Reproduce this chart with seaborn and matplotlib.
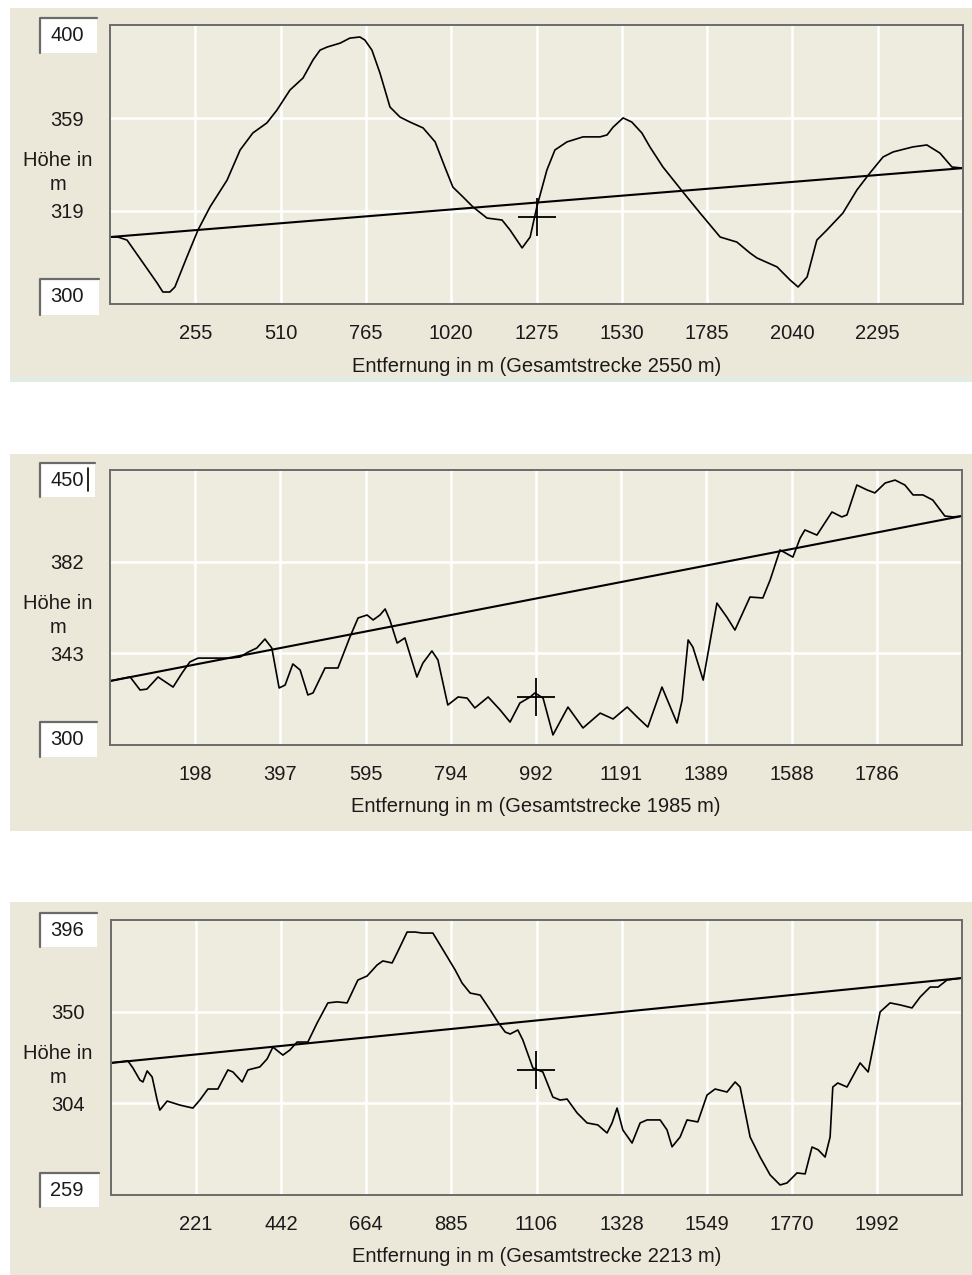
import matplotlib
matplotlib.use("Agg")
import matplotlib.pyplot as plt
from matplotlib.patches import Rectangle
from matplotlib.lines import Line2D
import pandas as pd
import seaborn as sns

# --- profile 1 (Gesamtstrecke 2550 m) ---
dist_1 = [0, 24, 51, 99, 141, 158, 179, 194, 230, 263, 299, 350, 389, 427, 469, 499,
          538, 577, 607, 628, 649, 688, 717, 747, 762, 783, 807, 837, 867, 897, 936,
          972, 1001, 1025, 1055, 1085, 1127, 1172, 1196, 1232, 1256, 1276, 1306, 1330,
          1366, 1414, 1465, 1486, 1504, 1534, 1560, 1590, 1614, 1653, 1713, 1764, 1824,
          1874, 1913, 1934, 1994, 2033, 2057, 2084, 2113, 2143, 2191, 2233, 2272, 2311,
          2341, 2400, 2442, 2481, 2517, 2550]
height_1 = [324.0, 324.0, 322.9, 314.7, 307.5, 304.3, 304.3, 306.1, 316.9, 326.5, 334.8,
            344.4, 355.2, 361.3, 364.9, 369.5, 376.7, 381.0, 387.5, 391.0, 392.1, 393.5,
            395.3, 395.7, 394.6, 391.0, 382.8, 370.6, 367.0, 365.2, 363.1, 358.1, 349.1,
            341.9, 338.4, 334.8, 330.8, 330.1, 326.5, 320.1, 324.0, 334.8, 348.0, 355.2,
            358.1, 359.9, 359.9, 360.6, 363.4, 366.7, 365.2, 361.3, 356.3, 349.1, 340.1,
            332.6, 324.0, 322.2, 318.3, 316.5, 313.3, 308.6, 306.1, 309.7, 322.9, 326.5,
            332.6, 340.9, 347.0, 352.7, 354.5, 356.3, 357.0, 354.1, 349.1, 348.7]
trend_1 = [324.0, 348.7]
cross_1 = (1275, 331.2)
yrange_1 = (300, 400)
ylabels_1 = ["319", "359"]
xlabels_1 = ["255", "510", "765", "1020", "1275", "1530", "1785", "2040", "2295"]
total_1 = 2550

# --- profile 2 (Gesamtstrecke 1985 m) ---
dist_2 = [0, 23, 47, 70, 86, 112, 133, 147, 168, 186, 205, 240, 280, 303, 322, 342, 361,
          377, 394, 408, 426, 443, 461, 473, 501, 531, 559, 578, 599, 613, 629, 641, 652,
          669, 687, 715, 729, 750, 764, 787, 811, 832, 850, 881, 909, 932, 955, 979, 990,
          1009, 1032, 1067, 1102, 1142, 1172, 1205, 1228, 1253, 1286, 1321, 1333, 1347,
          1358, 1382, 1414, 1437, 1456, 1491, 1521, 1538, 1561, 1591, 1608, 1619, 1647,
          1682, 1705, 1717, 1740, 1764, 1782, 1806, 1829, 1852, 1871, 1894, 1917, 1945,
          1964, 1985]
height_2 = [334.9, 336.0, 337.1, 330.0, 330.5, 337.1, 333.8, 331.6, 339.3, 345.3, 347.4,
            347.4, 347.4, 348.0, 350.7, 352.9, 357.8, 352.9, 331.1, 332.7, 344.2, 340.9,
            327.3, 328.4, 342.0, 342.0, 358.9, 369.3, 370.9, 368.2, 370.9, 374.2, 368.2,
            355.6, 358.4, 337.1, 344.7, 351.3, 346.4, 321.8, 326.2, 325.6, 320.2, 326.2,
            319.1, 312.5, 322.9, 326.2, 328.4, 325.6, 305.5, 320.7, 309.3, 317.4, 314.2,
            320.7, 315.3, 309.8, 331.6, 312.0, 324.5, 357.3, 353.4, 335.4, 377.4, 369.8,
            362.7, 380.7, 380.2, 390.0, 406.4, 402.5, 412.9, 417.3, 414.5, 427.1, 424.4,
            425.5, 441.8, 439.1, 437.5, 442.9, 444.5, 441.8, 436.4, 436.4, 433.6, 424.9,
            424.4, 424.9]
trend_2 = [334.9, 424.9]
cross_2 = (992, 326.2)
yrange_2 = (300, 450)
ylabels_2 = ["343", "382"]
xlabels_2 = ["198", "397", "595", "794", "992", "1191", "1389", "1588", "1786"]
total_2 = 1985

# --- profile 3 (Gesamtstrecke 2213 m) ---
dist_3 = [0, 44, 57, 75, 83, 94, 107, 120, 127, 146, 179, 213, 231, 252, 278, 304, 317,
          341, 356, 387, 406, 421, 447, 465, 484, 512, 536, 564, 588, 614, 642, 666, 692,
          707, 731, 744, 770, 791, 809, 837, 856, 895, 913, 934, 960, 986, 1006, 1025,
          1038, 1058, 1071, 1097, 1123, 1149, 1168, 1186, 1212, 1238, 1266, 1290, 1303,
          1316, 1331, 1355, 1376, 1394, 1428, 1446, 1459, 1480, 1498, 1526, 1550, 1571,
          1602, 1623, 1636, 1662, 1688, 1714, 1740, 1758, 1784, 1805, 1823, 1839, 1857,
          1870, 1877, 1890, 1914, 1948, 1969, 1982, 2000, 2026, 2052, 2083, 2104, 2130,
          2151, 2174, 2213]
height_3 = [324.8, 325.8, 322.3, 316.3, 315.3, 320.8, 317.8, 306.3, 301.3, 305.8, 303.8,
            302.3, 306.3, 311.8, 311.8, 321.3, 320.3, 315.3, 321.3, 322.8, 326.8, 332.7,
            328.7, 331.2, 335.2, 335.2, 344.7, 354.7, 355.2, 354.7, 366.1, 368.1, 373.6,
            375.6, 374.6, 379.6, 390.0, 390.0, 389.5, 389.5, 383.5, 371.1, 364.6, 359.6,
            358.6, 351.2, 345.2, 340.2, 339.2, 341.2, 336.2, 322.3, 320.3, 307.8, 306.3,
            306.8, 299.9, 294.9, 293.9, 289.9, 294.9, 302.3, 291.4, 284.9, 294.9, 296.4,
            296.4, 291.4, 283.0, 287.9, 296.4, 295.4, 308.8, 311.8, 310.3, 315.3, 312.8,
            287.9, 277.9, 269.0, 264.0, 265.0, 270.0, 269.5, 282.9, 281.5, 277.9, 287.9,
            312.8, 314.8, 312.8, 324.8, 320.3, 332.7, 350.2, 354.7, 353.7, 352.2, 357.6,
            362.6, 362.6, 366.1, 367.1]
trend_3 = [324.8, 367.1]
cross_3 = (1106, 321.3)
yrange_3 = (259, 396)
ylabels_3 = ["304", "350"]
xlabels_3 = ["221", "442", "664", "885", "1106", "1328", "1549", "1770", "1992"]
total_3 = 2213

profiles = [
    (dist_1, height_1, trend_1, cross_1, yrange_1, ylabels_1, xlabels_1, total_1),
    (dist_2, height_2, trend_2, cross_2, yrange_2, ylabels_2, xlabels_2, total_2),
    (dist_3, height_3, trend_3, cross_3, yrange_3, ylabels_3, xlabels_3, total_3),
]

sns.set_theme(style="white")
plt.rcParams['font.family'] = ['Liberation Sans', 'DejaVu Sans']

W, H = 972, 1275
BEIGE = "#ECE8D9"
INNER = "#EEEBDF"
TXT = "#1a1a1a"
fig = plt.figure(figsize=(W / 100, H / 100), dpi=100)
fig.patch.set_facecolor("white")


def frac(x, y):
    # pixel coords (origin top-left) -> figure fraction
    return x / W, 1 - y / H


def box(x0, y0, x1, y1):
    # sunken white text box like a windows edit control
    fx, fy = frac(x0, y1)
    fig.patches.append(Rectangle((fx, fy), (x1 - x0) / W, (y1 - y0) / H,
                                 transform=fig.transFigure, facecolor="white",
                                 edgecolor="none", zorder=1))
    fig.lines.append(Line2D([x0 / W, x0 / W, x1 / W], [1 - y1 / H, 1 - y0 / H, 1 - y0 / H],
                            transform=fig.transFigure, color="#6a6a6a", lw=1.6, zorder=2))


# panel geometry in pixels: background band, axes rectangle, value boxes
panels = [
    dict(bg=(10, 8, 972, 376), strip=(376, 382), ax=(110, 25, 963, 304),
         top=(40, 18, 97, 53), bot=(40, 279, 99, 315)),
    dict(bg=(10, 454, 972, 831), strip=None, ax=(110, 470, 962, 745),
         top=(40, 463, 95, 497), bot=(40, 722, 97, 757)),
    dict(bg=(10, 902, 972, 1275), strip=None, ax=(111, 920, 962, 1195),
         top=(40, 913, 97, 947), bot=(40, 1173, 99, 1207)),
]

for p, (dist, height, trend, cross, yr, ylab, xlab, total) in zip(panels, profiles):
    bx0, by0, bx1, by1 = p["bg"]
    fx, fy = frac(bx0, by1)
    fig.patches.append(Rectangle((fx, fy), (bx1 - bx0) / W, (by1 - by0) / H,
                                 transform=fig.transFigure, facecolor=BEIGE,
                                 edgecolor="none", zorder=-2))
    if p["strip"]:
        s0, s1 = p["strip"]
        fx, fy = frac(bx0, s1)
        fig.patches.append(Rectangle((fx, fy), (bx1 - bx0) / W, (s1 - s0) / H,
                                     transform=fig.transFigure, facecolor="#E3EBE2",
                                     edgecolor="none", zorder=-2))

    ax0, ay0, ax1, ay1 = p["ax"]
    fx, fy = frac(ax0, ay1)
    ax = fig.add_axes([fx, fy, (ax1 - ax0) / W, (ay1 - ay0) / H])
    ax.set_facecolor(INNER)

    df = pd.DataFrame({"dist": dist, "height": height})
    sns.lineplot(data=df, x="dist", y="height", ax=ax, color="black", lw=1.2,
                 estimator=None, sort=False)
    tr = pd.DataFrame({"dist": [0, total], "height": trend})
    sns.lineplot(data=tr, x="dist", y="height", ax=ax, color="black", lw=1.5)
    ax.plot([cross[0]], [cross[1]], marker="+", ms=27, mew=1.3, color="black")

    ymin, ymax = yr
    ax.set_xlim(0, total)
    ax.set_ylim(ymin, ymax)
    ax.set_xticks([total * k / 10 for k in range(1, 10)])
    ax.set_xticklabels(xlab)
    ax.set_yticks([ymin + (ymax - ymin) * k / 3 for k in (1, 2)])
    ax.set_yticklabels(ylab)
    ax.tick_params(axis="both", length=0, labelsize=14.5, colors=TXT)
    ax.tick_params(axis="x", pad=14.5)
    ax.tick_params(axis="y", pad=19)
    ax.grid(True, color="white", lw=1.8)
    for s in ax.spines.values():
        s.set_color("#6b6b6b")
        s.set_linewidth(1.4)
    ax.set_xlabel("")
    ax.set_ylabel("")

    ax.text(0.5, -62 / (ay1 - ay0), f"Entfernung in m (Gesamtstrecke {total} m)",
            transform=ax.transAxes, ha="center", va="center", fontsize=14.5, color=TXT)

    mid = (ay0 + ay1) / 2
    fig.text(58 / W, 1 - (mid - 4) / H, "Höhe in", ha="center", va="center",
             fontsize=14.5, color=TXT)
    fig.text(58 / W, 1 - (mid + 20) / H, "m", ha="center", va="center",
             fontsize=14.5, color=TXT)

    for key, val in (("top", ymax), ("bot", ymin)):
        x0, y0, x1, y1 = p[key]
        box(x0, y0, x1, y1)
        fig.text(50 / W, 1 - ((y0 + y1) / 2) / H, f"{val}", ha="left", va="center",
                 fontsize=14.5, color=TXT, zorder=3)

# text caret in the second panel's top box
fig.lines.append(Line2D([88 / W, 88 / W], [1 - 468 / H, 1 - 491 / H],
                        transform=fig.transFigure, color="black", lw=1.2, zorder=3))

fig.savefig("out.png", dpi=100)
